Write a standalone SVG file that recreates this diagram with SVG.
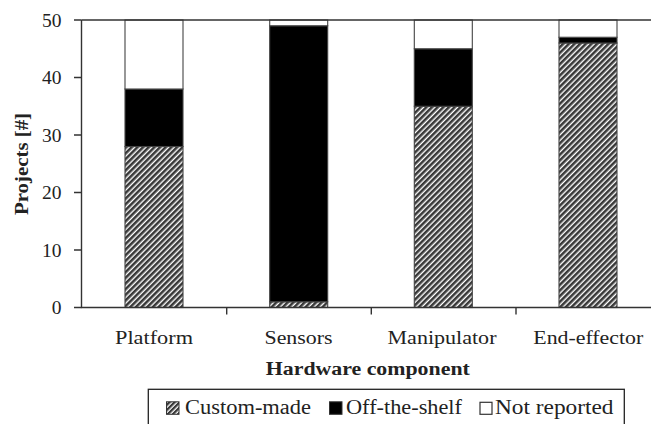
<svg xmlns="http://www.w3.org/2000/svg" width="651" height="424" viewBox="0 0 651 424">
<style>
text{font-family:"Liberation Serif","Times New Roman",serif;fill:#222}
.tick{font-size:19.5px;text-anchor:end}
.cat{font-size:19px;text-anchor:middle}
.ttl{font-size:18px;font-weight:bold;text-anchor:middle}
.leg{font-size:20px}
.ax{stroke:#333;stroke-width:1.4;fill:none}
.bar{stroke:#444;stroke-width:1.1}
.cm{fill:url(#hatch)}
.ots{fill:#000}
.nr{fill:#fff}
</style>
<defs>
<pattern id="hatch" patternUnits="userSpaceOnUse" width="4" height="4" patternTransform="rotate(45)">
<rect width="4" height="4" fill="#fff"/>
<rect width="2.6" height="4" fill="#383838"/>
</pattern>
<pattern id="hatchS" patternUnits="userSpaceOnUse" width="3.6" height="3.6" patternTransform="rotate(45)">
<rect width="3.6" height="3.6" fill="#fff"/>
<rect width="2.3" height="3.6" fill="#383838"/>
</pattern>
</defs>
<rect width="651" height="424" fill="#fff"/>

<g id="bar-platform">
<rect class="bar cm" x="125" y="146.5" width="58" height="161"/>
<rect class="bar ots" x="125" y="89" width="58" height="57.5"/>
<rect class="bar nr" x="125" y="20" width="58" height="69"/>
</g>
<g id="bar-sensors">
<rect class="bar cm" x="269.7" y="301.75" width="58" height="5.75"/>
<rect class="bar ots" x="269.7" y="25.75" width="58" height="276"/>
<rect class="bar nr" x="269.7" y="20" width="58" height="5.75"/>
</g>
<g id="bar-manipulator">
<rect class="bar cm" x="414.3" y="106.25" width="58" height="201.25"/>
<rect class="bar ots" x="414.3" y="48.75" width="58" height="57.5"/>
<rect class="bar nr" x="414.3" y="20" width="58" height="28.75"/>
</g>
<g id="bar-end-effector">
<rect class="bar cm" x="559" y="43" width="58" height="264.5"/>
<rect class="bar ots" x="559" y="37.25" width="58" height="5.75"/>
<rect class="bar nr" x="559" y="20" width="58" height="17.25"/>
</g>

<g id="axes">
<path class="ax" d="M81.5 20H651M81.5 20V307.5H651"/>
<path class="ax" d="M74 20H81.5M74 77.5H81.5M74 135H81.5M74 192.5H81.5M74 250H81.5M74 307.5H81.5"/>
<path class="ax" d="M226.7 307.5V314.5M371.3 307.5V314.5M516 307.5V314.5"/>
<text class="tick" x="61.5" y="26.5">50</text>
<text class="tick" x="61.5" y="84">40</text>
<text class="tick" x="61.5" y="141.5">30</text>
<text class="tick" x="61.5" y="199">20</text>
<text class="tick" x="61.5" y="256.5">10</text>
<text class="tick" x="61.5" y="314">0</text>
<text class="ttl" transform="translate(28.3 164) rotate(-90)" textLength="102" lengthAdjust="spacingAndGlyphs">Projects [#]</text>
</g>

<g id="labels">
<text class="cat" x="154" y="344" textLength="78" lengthAdjust="spacingAndGlyphs">Platform</text>
<text class="cat" x="298.5" y="344" textLength="68" lengthAdjust="spacingAndGlyphs">Sensors</text>
<text class="cat" x="442" y="344" textLength="109" lengthAdjust="spacingAndGlyphs">Manipulator</text>
<text class="cat" x="588.3" y="344" textLength="110" lengthAdjust="spacingAndGlyphs">End-effector</text>
<text class="ttl" x="367.8" y="375" textLength="204" lengthAdjust="spacingAndGlyphs">Hardware component</text>
</g>

<g id="legend">
<rect x="148.3" y="389.3" width="476" height="50" fill="#fff" stroke="#222" stroke-width="1.3"/>
<rect x="166.5" y="401.8" width="12.5" height="12.5" fill="url(#hatchS)" stroke="#333" stroke-width="1"/>
<text class="leg" x="185" y="414" textLength="126" lengthAdjust="spacingAndGlyphs">Custom-made</text>
<rect x="329.5" y="401.8" width="12.5" height="12.5" fill="#000" stroke="#333" stroke-width="1"/>
<text class="leg" x="346" y="414" textLength="116" lengthAdjust="spacingAndGlyphs">Off-the-shelf</text>
<rect x="480" y="402.3" width="12" height="12" fill="#fff" stroke="#333" stroke-width="1.2"/>
<text class="leg" x="495" y="414" textLength="118.5" lengthAdjust="spacingAndGlyphs">Not reported</text>
</g>
</svg>
